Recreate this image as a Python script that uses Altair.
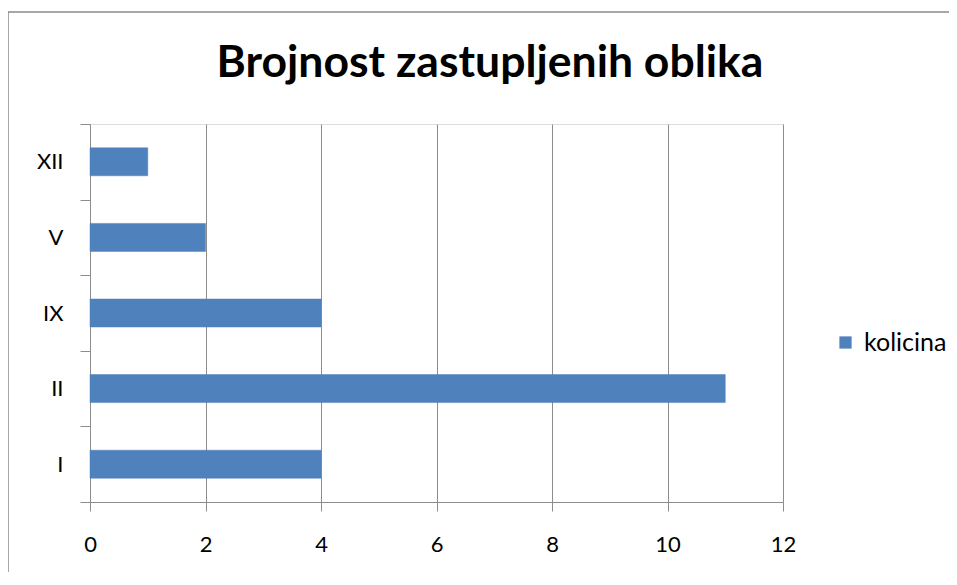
import altair as alt
import pandas as pd

categories = ["I", "II", "IX", "V", "XII"]
values = [4, 11, 4, 2, 1]
series_name = "kolicina"
x_ticks = [0, 2, 4, 6, 8, 10, 12]
title_text = "Brojnost zastupljenih oblika"

df = pd.DataFrame({"oblik": categories, "kolicina": values, "serija": series_name})

FONT = "Lato"
GRID = "#8c8c8c"
BLUE = "#4F81BD"

bars = alt.Chart(df).mark_bar(color=BLUE, stroke="#4a7ebb", strokeWidth=0.5,
                              height={"band": 0.37}).encode(
    x=alt.X("kolicina:Q",
            scale=alt.Scale(domain=[0, 12], nice=False, zero=True),
            axis=alt.Axis(values=x_ticks, title=None, grid=True, gridColor=GRID,
                          gridWidth=1, domainColor=GRID, tickColor=GRID, tickSize=9,
                          labelFont=FONT, labelFontSize=22, labelColor="#000000",
                          labelPadding=23, labelFlush=False, format="d")),
    y=alt.Y("oblik:N", sort=categories[::-1],
            scale=alt.Scale(paddingInner=0, paddingOuter=0),
            axis=alt.Axis(title=None, tickBand="extent", domainColor=GRID, tickColor=GRID,
                          tickSize=10, labelFont=FONT, labelFontSize=22, labelColor="#000000",
                          labelPadding=17, grid=False)),
    color=alt.Color("serija:N",
                    scale=alt.Scale(domain=[series_name], range=[BLUE]),
                    legend=alt.Legend(title=None, orient="none", legendX=743, legendY=206,
                                      symbolType="square", symbolSize=150,
                                      symbolStrokeWidth=0, labelFont=FONT,
                                      labelFontSize=25, labelColor="#000000",
                                      labelOffset=6)),
)

border = alt.Chart(pd.DataFrame({"b": [0]})).mark_rect(
    fill=None, stroke="#8a8a8a", strokeWidth=1.5
).encode(x=alt.value(-82), x2=alt.value(900), y=alt.value(-112), y2=alt.value(480))

title = alt.Chart(pd.DataFrame({"t": [title_text]})).mark_text(
    font=FONT, fontSize=44.5, fontWeight="bold", color="#000000",
    align="center", baseline="alphabetic"
).encode(text="t:N", x=alt.value(400), y=alt.value(-47))

chart = alt.layer(border, bars, title).properties(
    width=693, height=378,
    autosize=alt.AutoSizeParams(type="none"),
    padding={"left": 82, "top": 116, "right": 166, "bottom": 70},
).configure_view(stroke=None).configure(background="white")

chart.save("out.html", embed_options={"renderer": "svg", "actions": False})
